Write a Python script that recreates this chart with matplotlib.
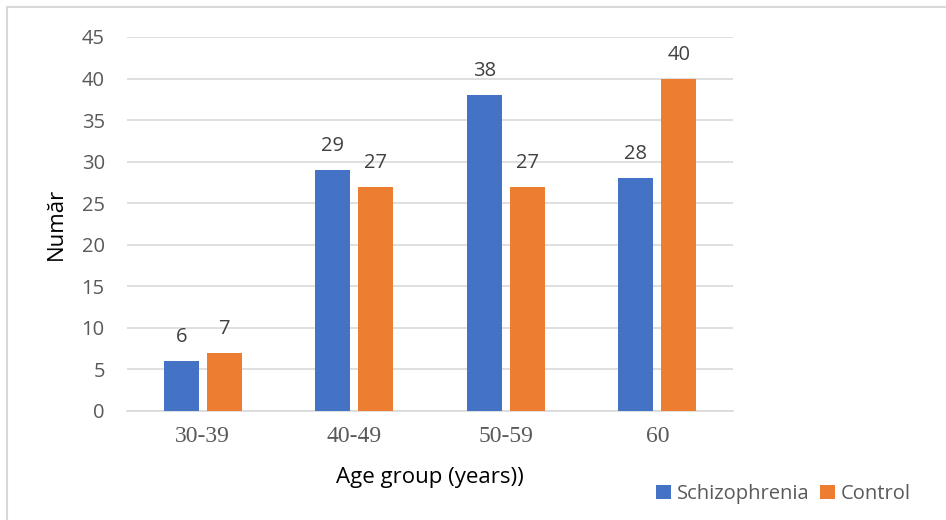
import matplotlib.pyplot as plt
import numpy as np
from matplotlib.lines import Line2D

groups = ["30-39", "40-49", "50-59", "60"]
schizophrenia = [6, 29, 38, 28]
control = [7, 27, 27, 40]

blue = "#4472C4"
orange = "#ED7D31"
txt = "#595959"

plt.rcParams['font.family'] = ['Open Sans', 'DejaVu Sans']

fig = plt.figure(figsize=(9.46, 5.2), dpi=100)
ax = fig.add_axes([127 / 946, 1 - 411 / 520, 606 / 946, 374 / 520])

x = np.arange(len(groups))
w = 0.231
off = 0.142
b1 = ax.bar(x - off, schizophrenia, w, color=blue, label="Schizophrenia", zorder=3)
b2 = ax.bar(x + off, control, w, color=orange, label="Control", zorder=3)

# value labels above each bar
for bars in (b1, b2):
    for r in bars:
        ax.annotate(f"{r.get_height():g}", (r.get_x() + r.get_width() / 2, r.get_height()),
                    xytext=(0, 10), textcoords="offset points", ha="center", va="bottom",
                    fontsize=14.5, color="#404040")

ax.set_xlim(-0.5, len(groups) - 0.5)
ax.set_ylim(0, 45)
ax.set_yticks(range(0, 46, 5))
ax.set_xticks(x)
ax.set_xticklabels(groups, family="Liberation Serif", fontsize=17, color=txt)
ax.tick_params(axis="y", length=0, labelsize=14.5, labelcolor=txt, pad=16)
ax.tick_params(axis="x", length=0, pad=11)
ax.grid(axis="y", color="#D9D9D9", linewidth=1.2, zorder=0)
for s in ["top", "right", "left"]:
    ax.spines[s].set_visible(False)
ax.spines["bottom"].set_color("#D9D9D9")
ax.spines["bottom"].set_linewidth(1.2)

fig.text(56 / 946, 1 - 224 / 520, "Număr", rotation=90, ha="center", va="center",
         fontsize=16, color="#000000")
fig.text(430 / 946, 1 - 478 / 520, "Age group (years))", ha="center", va="center",
         fontsize=16, color="#000000")

fig.legend(handles=[b1, b2], loc="center right", bbox_to_anchor=(921 / 946, 1 - 494 / 520),
           ncol=2, frameon=False, fontsize=14.5, labelcolor=txt, handlelength=0.75,
           handleheight=0.75, handletextpad=0.3, columnspacing=0.5, borderpad=0)

# frame: left and top edges only
fig.add_artist(Line2D([7 / 946, 7 / 946], [0, 1 - 7 / 520], transform=fig.transFigure,
                      color="#D9D9D9", linewidth=1.5))
fig.add_artist(Line2D([7 / 946, 1], [1 - 7 / 520, 1 - 7 / 520], transform=fig.transFigure,
                      color="#D9D9D9", linewidth=1.5))

fig.savefig("out.png", dpi=100)
